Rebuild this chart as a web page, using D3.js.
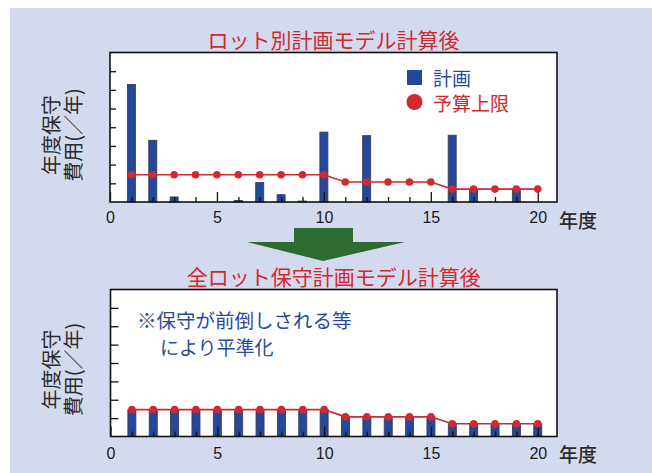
<!DOCTYPE html>
<html>
<head>
<meta charset="utf-8">
<script src="https://cdn.jsdelivr.net/npm/d3@7"></script>
<style>
  html, body { margin: 0; padding: 0; background: #ffffff; }
  svg { display: block; }
</style>
</head>
<body>
<svg id="chart" width="652" height="473"></svg>
<script>
// Years on the horizontal axis
const years = d3.range(1, 21);
// Annual maintenance cost per lot-based plan (upper chart)
const lotPlan = [6.29, 3.30, 0.27, 0, 0, 0.08, 1.04, 0.39, 0.05, 3.74, 0, 3.55, 0, 0, 0, 3.57, 0.68, 0, 0.68, 0];
// Annual budget ceiling
const budgetCap = [1.46, 1.46, 1.46, 1.46, 1.46, 1.46, 1.46, 1.46, 1.46, 1.46, 1.07, 1.07, 1.07, 1.07, 1.07, 0.69, 0.69, 0.69, 0.69, 0.69];
// Annual cost after whole-lot maintenance planning (lower chart)
const allLotPlan = [1.46, 1.46, 1.46, 1.46, 1.46, 1.46, 1.46, 1.46, 1.46, 1.46, 1.07, 1.07, 1.07, 1.07, 1.07, 0.69, 0.69, 0.69, 0.69, 0.69];
// Axis ticks
const xMajorTicks = [0, 5, 10, 15, 20];
const xMinorTicks = d3.range(1, 21).filter(d => d % 5 !== 0);
const yTicks = [1, 2, 3, 4, 5, 6, 7];

const BLUE = "#24489c";
const RED = "#d2292f";
const TEXT_BLUE = "#2b4a9a";
const CJK = "'Noto Sans CJK JP', 'Noto Sans', sans-serif";
const NUM = "'Liberation Sans', Arial, sans-serif";

const svg = d3.select("#chart");

// page background
svg.append("rect").attr("x", 10).attr("y", 8).attr("width", 642).attr("height", 465)
  .attr("fill", "#d4daee");

function panel(box, bars, cap, opts) {
  const g = svg.append("g");
  const x = d3.scaleLinear().domain([0, 20.9]).range([box.x0, box.x1]);
  const y = d3.scaleLinear().domain([0, 8]).range([box.y1, box.y0]);

  g.append("rect").attr("x", box.x0).attr("y", box.y0)
    .attr("width", box.x1 - box.x0).attr("height", box.y1 - box.y0)
    .attr("fill", "#ffffff");

  // bars
  const bw = 8;
  g.append("g").selectAll("rect").data(years.map((yr, i) => ({ yr, v: bars[i] })).filter(d => d.v > 0))
    .join("rect")
    .attr("x", d => x(d.yr) - bw / 2)
    .attr("y", d => y(d.v))
    .attr("width", bw)
    .attr("height", d => y(0) - y(d.v))
    .attr("fill", BLUE)
    .attr("stroke", "#3b3f52")
    .attr("stroke-width", 0.9);

  // x axis: minor and major inward ticks
  const minor = d3.axisBottom(x).tickValues(xMinorTicks).tickSize(-5).tickFormat("");
  const major = d3.axisBottom(x).tickValues(xMajorTicks).tickSize(-10).tickPadding(opts.labelPad);
  const gm = g.append("g").attr("transform", `translate(0,${box.y1})`).call(minor);
  const gM = g.append("g").attr("transform", `translate(0,${box.y1})`).call(major);
  [gm, gM].forEach(a => {
    a.select(".domain").remove();
    a.selectAll(".tick line").attr("stroke", "#111").attr("stroke-width", 1.3);
  });
  gM.selectAll(".tick text").attr("font-family", NUM).attr("font-size", 16).attr("fill", "#1a1a1a");

  // y axis: unlabeled inward ticks
  const ya = d3.axisLeft(y).tickValues(yTicks).tickSize(-opts.yTick).tickFormat("");
  const gy = g.append("g").attr("transform", `translate(${box.x0},0)`).call(ya);
  gy.select(".domain").remove();
  gy.selectAll(".tick line").attr("stroke", "#111").attr("stroke-width", 1.3);

  // budget ceiling line and markers
  const line = d3.line().x((d, i) => x(years[i])).y(d => y(d));
  g.append("path").datum(cap).attr("d", line)
    .attr("fill", "none").attr("stroke", RED).attr("stroke-width", 1.6);
  g.append("g").selectAll("circle").data(cap).join("circle")
    .attr("cx", (d, i) => x(years[i])).attr("cy", d => y(d)).attr("r", 3.8)
    .attr("fill", RED);

  // frame
  g.append("rect").attr("x", box.x0).attr("y", box.y0)
    .attr("width", box.x1 - box.x0).attr("height", box.y1 - box.y0)
    .attr("fill", "none").attr("stroke", "#111").attr("stroke-width", 1.6);

  // axis titles
  const cy = box.y1 - 67;
  [["年度保守", 50], ["費用(／年)", 72]].forEach(([t, cx]) => {
    g.append("text").attr("transform", `translate(${cx},${cy}) rotate(-90)`)
      .attr("text-anchor", "middle").attr("dominant-baseline", "central")
      .attr("font-family", CJK).attr("font-size", 20)
      .attr("fill", "#2a2a2a").text(t);
  });
  g.append("text").attr("x", 559).attr("y", box.y1 + 17)
    .attr("dominant-baseline", "central")
    .attr("font-family", CJK).attr("font-size", 19).attr("font-weight", 500)
    .attr("fill", "#2a2a2a").text("年度");

  // panel title
  g.append("text").attr("x", (box.x0 + box.x1) / 2).attr("y", box.y0 - opts.titleGap)
    .attr("text-anchor", "middle").attr("dominant-baseline", "central")
    .attr("font-family", CJK).attr("font-size", 21).attr("fill", RED).text(opts.title);
  return g;
}

const upperPanel = panel({ x0: 110, x1: 557, y0: 52.5, y1: 202 }, lotPlan, budgetCap,
  { labelPad: 10, yTick: 6, titleGap: 14, title: "ロット別計画モデル計算後" });
const lowerPanel = panel({ x0: 110.5, x1: 557, y0: 289.5, y1: 436.5 }, allLotPlan, budgetCap,
  { labelPad: 11, yTick: 8, titleGap: 14, title: "全ロット保守計画モデル計算後" });

// legend in the upper chart
upperPanel.append("rect").attr("x", 407).attr("y", 70).attr("width", 15).attr("height", 15).attr("fill", BLUE);
upperPanel.append("text").attr("x", 433).attr("y", 77.5).attr("dominant-baseline", "central")
  .attr("font-family", CJK).attr("font-size", 19).attr("fill", TEXT_BLUE).text("計画");
upperPanel.append("circle").attr("cx", 414.5).attr("cy", 102).attr("r", 8).attr("fill", RED);
upperPanel.append("text").attr("x", 433).attr("y", 102).attr("dominant-baseline", "central")
  .attr("font-family", CJK).attr("font-size", 19).attr("fill", RED).text("予算上限");

// note in the lower chart
lowerPanel.append("text").attr("x", 137).attr("y", 319).attr("dominant-baseline", "central")
  .attr("font-family", CJK).attr("font-size", 19.5).attr("fill", TEXT_BLUE).text("※保守が前倒しされる等");
lowerPanel.append("text").attr("x", 160).attr("y", 346).attr("dominant-baseline", "central")
  .attr("font-family", CJK).attr("font-size", 19).attr("fill", TEXT_BLUE).text("により平準化");

// down arrow between the two charts
svg.append("polygon")
  .attr("points", "294,228 353,228 353,242 405,242 323,261 247,242 294,242")
  .attr("fill", "#2e6b31");
</script>
</body>
</html>
